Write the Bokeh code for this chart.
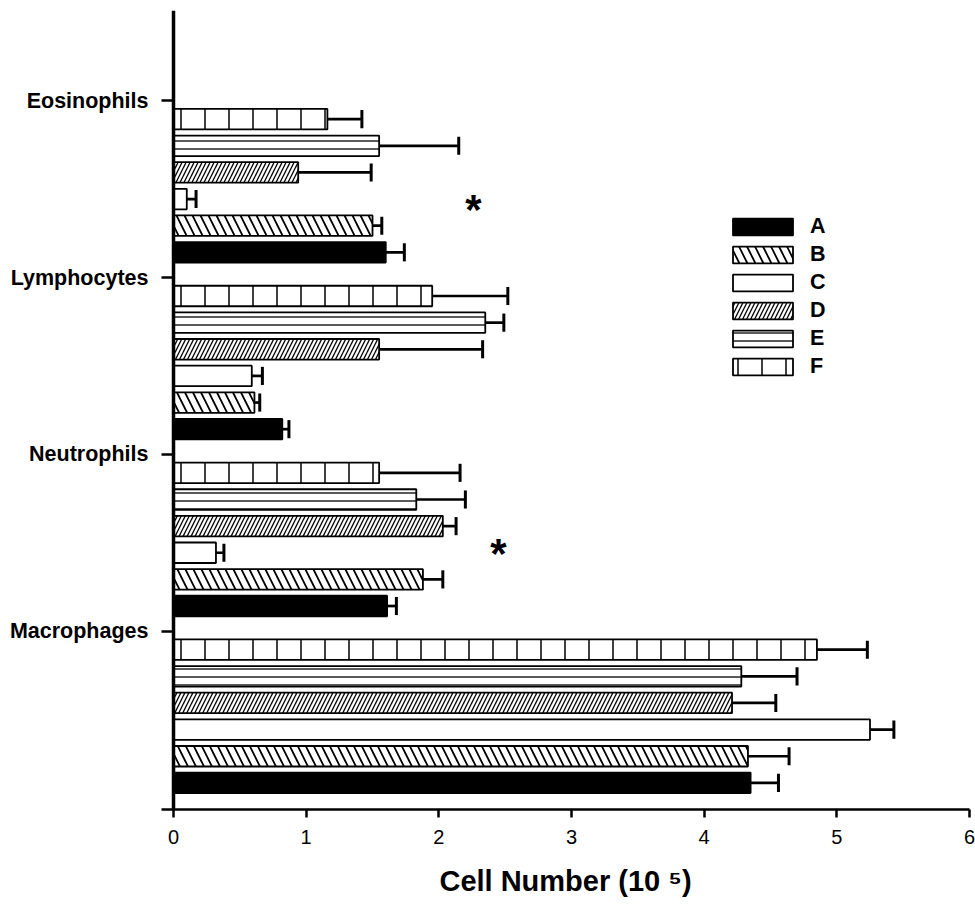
from bokeh.plotting import figure
from bokeh.models import ColumnDataSource, Range1d, FixedTicker, Span, Legend, LegendItem
from bokeh.embed import file_html
from bokeh.resources import INLINE
from bokeh.core.properties import value

# ---------------- data ----------------
cell_types = ["Macrophages", "Neutrophils", "Lymphocytes", "Eosinophils"]
series_names = ["A", "B", "C", "D", "E", "F"]

# mean cell number (10^5) per cell type, order as cell_types
A_mean = [4.35, 1.61, 0.82, 1.60]
B_mean = [4.33, 1.88, 0.61, 1.50]
C_mean = [5.25, 0.32, 0.59, 0.10]
D_mean = [4.21, 2.03, 1.55, 0.94]
E_mean = [4.28, 1.83, 2.35, 1.55]
F_mean = [4.85, 1.55, 1.95, 1.16]

# error (upper whisker length)
A_err = [0.21, 0.07, 0.05, 0.14]
B_err = [0.31, 0.15, 0.04, 0.07]
C_err = [0.18, 0.06, 0.08, 0.07]
D_err = [0.33, 0.10, 0.78, 0.55]
E_err = [0.42, 0.37, 0.14, 0.60]
F_err = [0.38, 0.61, 0.57, 0.26]

x_ticks = [0, 1, 2, 3, 4, 5, 6]

# significance marks (cell type, series, x value of the mark)
star_cells = ["Eosinophils", "Neutrophils"]
star_series = ["C", "C"]
star_x = [2.26, 2.45]

means = [A_mean, B_mean, C_mean, D_mean, E_mean, F_mean]
errs = [A_err, B_err, C_err, D_err, E_err, F_err]

# ---------------- style / layout ----------------
FONT = "Liberation Sans"
GROUP_STEP = 6.64
BAR_H = 0.77
CAP_HALF = 0.34
TICK_OFFSET = 6.69

styles = {
    "A": dict(fill_color="black"),
    "B": dict(fill_color="white", hatch_pattern="\\", hatch_scale=16, hatch_weight=1.8, hatch_color="black"),
    "C": dict(fill_color="white"),
    "D": dict(fill_color="white", hatch_pattern="/", hatch_scale=8, hatch_weight=1.3, hatch_color="black"),
    "E": dict(fill_color="white", hatch_pattern="-", hatch_scale=8, hatch_weight=1.3, hatch_color="black"),
    "F": dict(fill_color="white", hatch_pattern="|", hatch_scale=24, hatch_weight=1.5, hatch_color="black"),
}
star_dy = [10, 1]


def bar_y(g, i):
    return g * GROUP_STEP + 1 + i


p = figure(width=975, height=906,
           x_range=Range1d(-0.0905, 6), y_range=Range1d(0, 30),
           min_border_left=161, min_border_right=6, min_border_top=10, min_border_bottom=97,
           output_backend="svg", toolbar_location=None)
p.outline_line_color = None
p.xgrid.visible = False
p.ygrid.visible = False

items = []
for i, s in enumerate(series_names):
    ys = [bar_y(g, i) for g in range(len(cell_types))]
    hi = [m + e for m, e in zip(means[i], errs[i])]
    src = ColumnDataSource(dict(
        y=ys, right=means[i], hi=hi,
        yc0=[y - CAP_HALF for y in ys], yc1=[y + CAP_HALF for y in ys]))
    r = p.hbar(y="y", left=0, right="right", height=BAR_H, source=src,
               line_color="black", line_width=1.8, **styles[s])
    p.segment(x0="right", y0="y", x1="hi", y1="y", source=src,
              line_color="black", line_width=2.7)
    p.segment(x0="hi", y0="yc0", x1="hi", y1="yc1", source=src,
              line_color="black", line_width=3)
    items.append(LegendItem(label=s, renderers=[r]))

# asterisks
sy = [bar_y(cell_types.index(c), series_names.index(s)) for c, s in zip(star_cells, star_series)]
ssrc = ColumnDataSource(dict(x=star_x, y=sy, t=["*"] * len(star_x), dy=star_dy))
p.text(x="x", y="y", text="t", y_offset="dy", source=ssrc, text_align="center",
       text_baseline="alphabetic", text_font=value(FONT), text_font_style="bold",
       text_font_size="42px", text_color="black")

# y axis line at x = 0
p.add_layout(Span(location=0, dimension="height", line_color="black", line_width=3.5))

# y axis (category ticks)
tick_vals = [g * GROUP_STEP + TICK_OFFSET for g in range(len(cell_types))]
p.yaxis.ticker = FixedTicker(ticks=tick_vals)
p.yaxis.major_label_overrides = {v: n for v, n in zip(tick_vals, cell_types)}
p.yaxis.axis_line_color = None
p.yaxis.major_tick_in = 12
p.yaxis.major_tick_out = 0
p.yaxis.major_tick_line_width = 2.5
p.yaxis.minor_tick_line_color = None
p.yaxis.major_label_standoff = 13
p.yaxis.major_label_text_font = FONT
p.yaxis.major_label_text_font_size = "21.5px"
p.yaxis.major_label_text_font_style = "bold"
p.yaxis.major_label_text_color = "black"

# x axis
p.xaxis.ticker = FixedTicker(ticks=x_ticks)
p.xaxis.axis_line_width = 2.5
p.xaxis.axis_line_color = "black"
p.xaxis.major_tick_in = 0
p.xaxis.major_tick_out = 8
p.xaxis.major_tick_line_width = 2.5
p.xaxis.minor_tick_line_color = None
p.xaxis.major_label_standoff = 12
p.xaxis.major_label_text_font = FONT
p.xaxis.major_label_text_font_size = "20px"
p.xaxis.major_label_text_color = "black"
p.xaxis.axis_label = "Cell Number (10 \u2075)"
p.xaxis.axis_label_text_font = FONT
p.xaxis.axis_label_text_font_size = "29px"
p.xaxis.axis_label_text_font_style = "bold"
p.xaxis.axis_label_text_color = "black"
p.xaxis.axis_label_standoff = 18

legend = Legend(items=items, location=(564, 429), orientation="vertical",
                glyph_width=75, glyph_height=21, label_standoff=10,
                label_height=28, spacing=0, padding=0, margin=0,
                border_line_color=None, background_fill_alpha=0,
                label_text_font=FONT, label_text_font_size="21.5px",
                label_text_font_style="bold", label_text_color="black")
p.add_layout(legend)

open("out.html", "w").write(file_html(p, INLINE))
